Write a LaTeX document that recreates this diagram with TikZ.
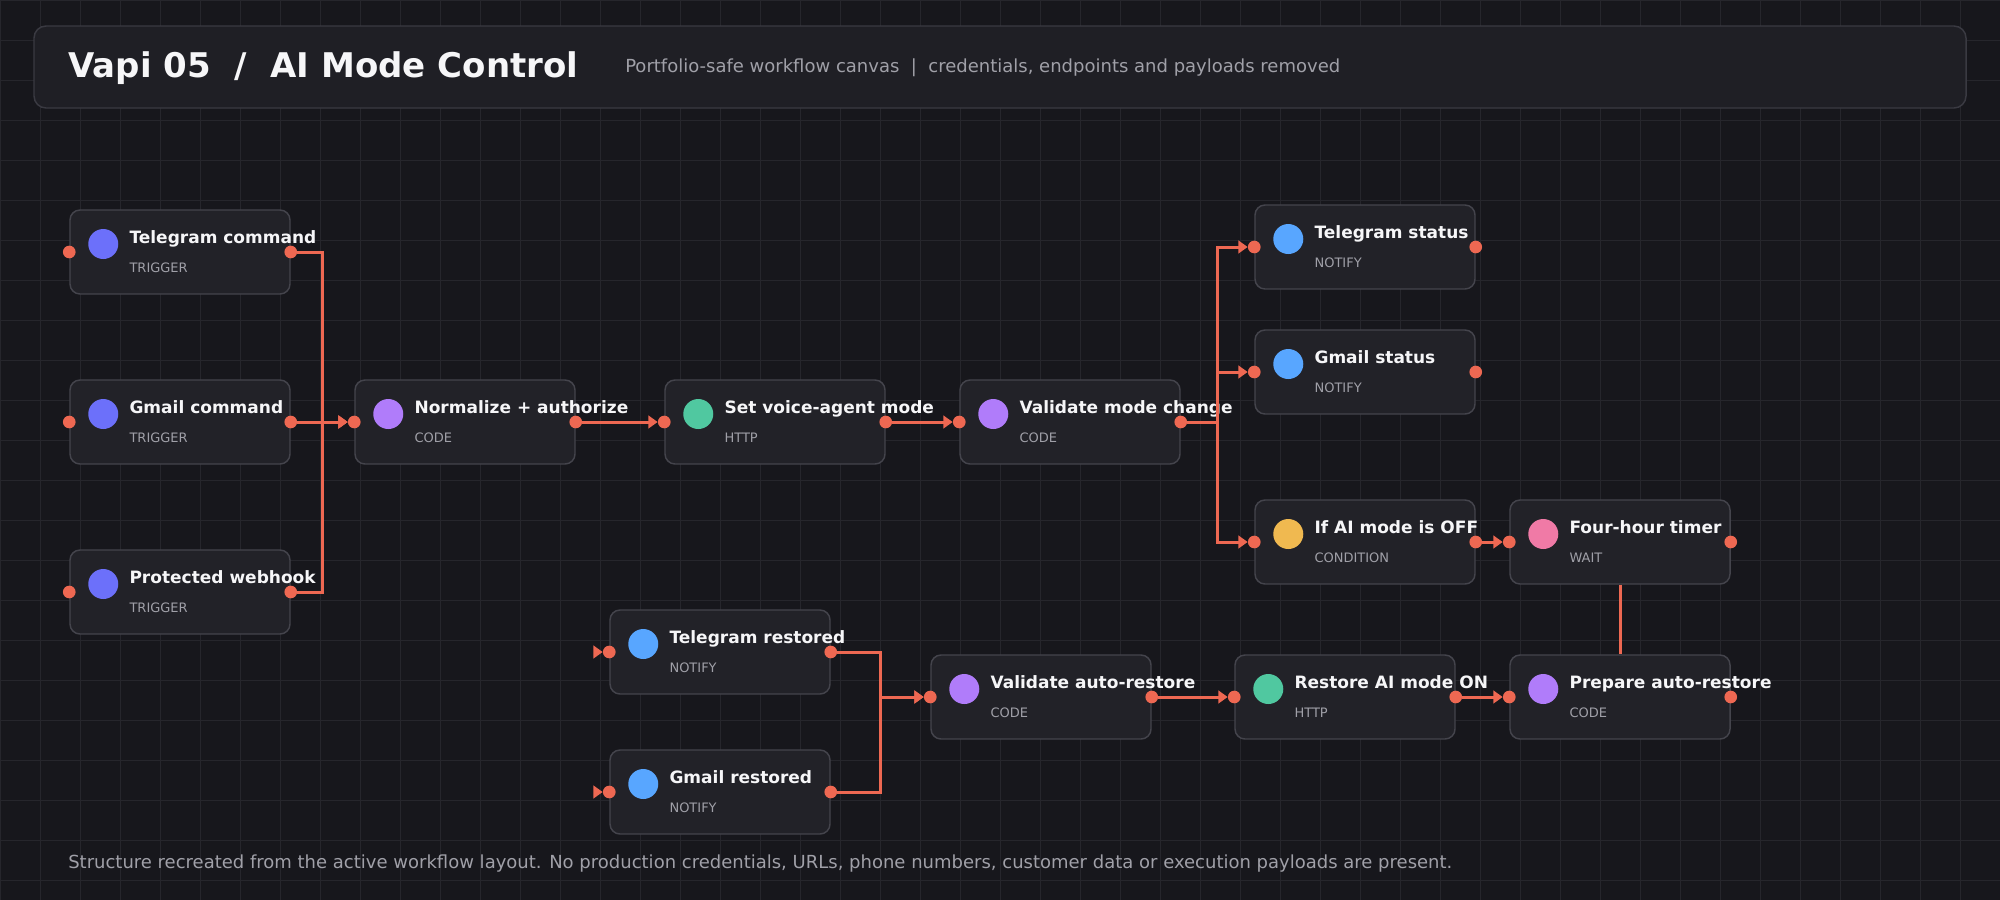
\documentclass[tikz,border=0pt]{standalone}
\usepackage{fontspec}
\setmainfont{DejaVu Sans}
\usepackage{tikz}
\usetikzlibrary{calc,arrows.meta}

\definecolor{canvasbg}{RGB}{23,23,28}
\definecolor{gridcol}{RGB}{38,38,44}
\definecolor{headbg}{RGB}{31,31,37}
\definecolor{headline}{RGB}{58,58,66}
\definecolor{cardbg}{RGB}{34,34,40}
\definecolor{cardline}{RGB}{68,68,76}
\definecolor{wirecol}{RGB}{238,104,82}
\definecolor{titlecol}{RGB}{246,246,248}
\definecolor{subcol}{RGB}{160,160,168}
\definecolor{kindtrigger}{RGB}{108,112,250}
\definecolor{kindcode}{RGB}{176,124,250}
\definecolor{kindhttp}{RGB}{80,200,160}
\definecolor{kindnotify}{RGB}{88,166,255}
\definecolor{kindcond}{RGB}{240,185,80}
\definecolor{kindwait}{RGB}{240,122,166}

\tikzset{
  card/.style={draw=cardline, fill=cardbg, line width=1.1pt, rounded corners=7.5pt,
    minimum width=165pt, minimum height=63pt, inner sep=0pt},
  kindicon/.style={circle, inner sep=0pt, minimum size=22.5pt},
  portdot/.style={circle, fill=wirecol, inner sep=0pt, minimum size=9.5pt},
  cardtitle/.style={anchor=base west, inner sep=0pt, text=titlecol,
    font=\bfseries\fontsize{12.75pt}{15pt}\selectfont},
  cardkind/.style={anchor=base west, inner sep=0pt, text=subcol,
    font=\fontsize{9.75pt}{12pt}\selectfont},
  wire/.style={draw=wirecol, line width=2.25pt},
  flow/.style={wire, -{Triangle[length=7pt,width=9.5pt]}},
}

\newcommand\wfnode[6]{
  \node[card] (#1) at (#2,#3) {};
  \node[kindicon, fill=#4] (#1-icon) at ($(#1.west)+(34,-8)$) {};
  \node[cardtitle] (#1-title) at ($(#1.west)+(60,-9)$) {#5};
  \node[cardkind] (#1-kind) at ($(#1.west)+(60,20)$) {#6};
  \node[portdot] (#1-in) at (#1.west) {};
  \node[portdot] (#1-out) at (#1.east) {};
}

\begin{document}
\begin{tikzpicture}[x=0.75pt, y=-0.75pt]
    \fill[canvasbg] (0,0) rectangle (2000,900);
    \useasboundingbox (0,0) rectangle (2000,900);
    \foreach \gx in {0,40,...,2000}{
      \draw[gridcol, line width=0.75pt] (\gx,0) -- (\gx,900);
    }
    \foreach \gy in {0,40,...,880}{
      \draw[gridcol, line width=0.75pt] (0,\gy) -- (2000,\gy);
    }

    \draw[draw=headline, fill=headbg, line width=1.1pt, rounded corners=9pt] (34,26) rectangle (1966,108);
    \node[anchor=base west, inner sep=0pt, text=titlecol, font=\bfseries\fontsize{25.5pt}{30pt}\selectfont]
      (headtitle) at (68,77) {Vapi 05\ \ /\ \ AI Mode Control};
    \node[anchor=base west, inner sep=0pt, text=subcol, font=\fontsize{13.5pt}{16pt}\selectfont]
      (headsub) at (625,72) {Portfolio-safe workflow canvas\ \ |\ \ credentials, endpoints and payloads removed};

    %%%%%%%%%%%%%%%%%%%%%%%%%%%%%%%%%%%%

    \wfnode{tc}{180}{252}{kindtrigger}{Telegram command}{TRIGGER}
    \wfnode{gc}{180}{422}{kindtrigger}{Gmail command}{TRIGGER}
    \wfnode{pw}{180}{592}{kindtrigger}{Protected webhook}{TRIGGER}
    \wfnode{na}{465}{422}{kindcode}{Normalize + authorize}{CODE}
    \wfnode{sv}{775}{422}{kindhttp}{Set voice-agent mode}{HTTP}
    \wfnode{vm}{1070}{422}{kindcode}{Validate mode change}{CODE}
    \wfnode{ts}{1365}{247}{kindnotify}{Telegram status}{NOTIFY}
    \wfnode{gs}{1365}{372}{kindnotify}{Gmail status}{NOTIFY}
    \wfnode{ia}{1365}{542}{kindcond}{If AI mode is OFF}{CONDITION}
    \wfnode{ft}{1620}{542}{kindwait}{Four-hour timer}{WAIT}
    \wfnode{tr}{720}{652}{kindnotify}{Telegram restored}{NOTIFY}
    \wfnode{gr}{720}{792}{kindnotify}{Gmail restored}{NOTIFY}
    \wfnode{va}{1041}{697}{kindcode}{Validate auto-restore}{CODE}
    \wfnode{ra}{1345}{697}{kindhttp}{Restore AI mode ON}{HTTP}
    \wfnode{pr}{1620}{697}{kindcode}{Prepare auto-restore}{CODE}

    %%%%%%%%%%%%%%%%%%%%%%%%%%%%%%%%%%%%

    \coordinate (busin) at (322,422);
    \coordinate (busout) at (1217,422);
    \coordinate (busrest) at (880,697);
    \coordinate (trfree) at (596,652);
    \coordinate (grfree) at (596,792);

    \draw[flow] (tc-out) -| (busin) -- (na-in);
    \draw[flow] (gc-out) -- (na-in);
    \draw[flow] (pw-out) -| (busin) -- (na-in);
    \draw[flow] (na-out) -- (sv-in);
    \draw[flow] (sv-out) -- (vm-in);
    \draw[flow] (vm-out) -- (busout) |- (ts-in);
    \draw[flow] (vm-out) -- (busout) |- (gs-in);
    \draw[flow] (vm-out) -- (busout) |- (ia-in);
    \draw[flow] (ia-out) -- (ft-in);
    \draw[wire] (ft) -- (pr);
    \draw[flow] (trfree) -- (tr-in);
    \draw[flow] (grfree) -- (gr-in);
    \draw[flow] (tr-out) -| (busrest) -- (va-in);
    \draw[flow] (gr-out) -| (busrest) -- (va-in);
    \draw[flow] (va-out) -- (ra-in);
    \draw[flow] (ra-out) -- (pr-in);

    \node[anchor=base west, inner sep=0pt, text=subcol, font=\fontsize{13.5pt}{16pt}\selectfont]
      (footnote) at (68,868) {Structure recreated from the active workflow layout. No production credentials, URLs, phone numbers, customer data or execution payloads are present.};

\end{tikzpicture}
\end{document}
